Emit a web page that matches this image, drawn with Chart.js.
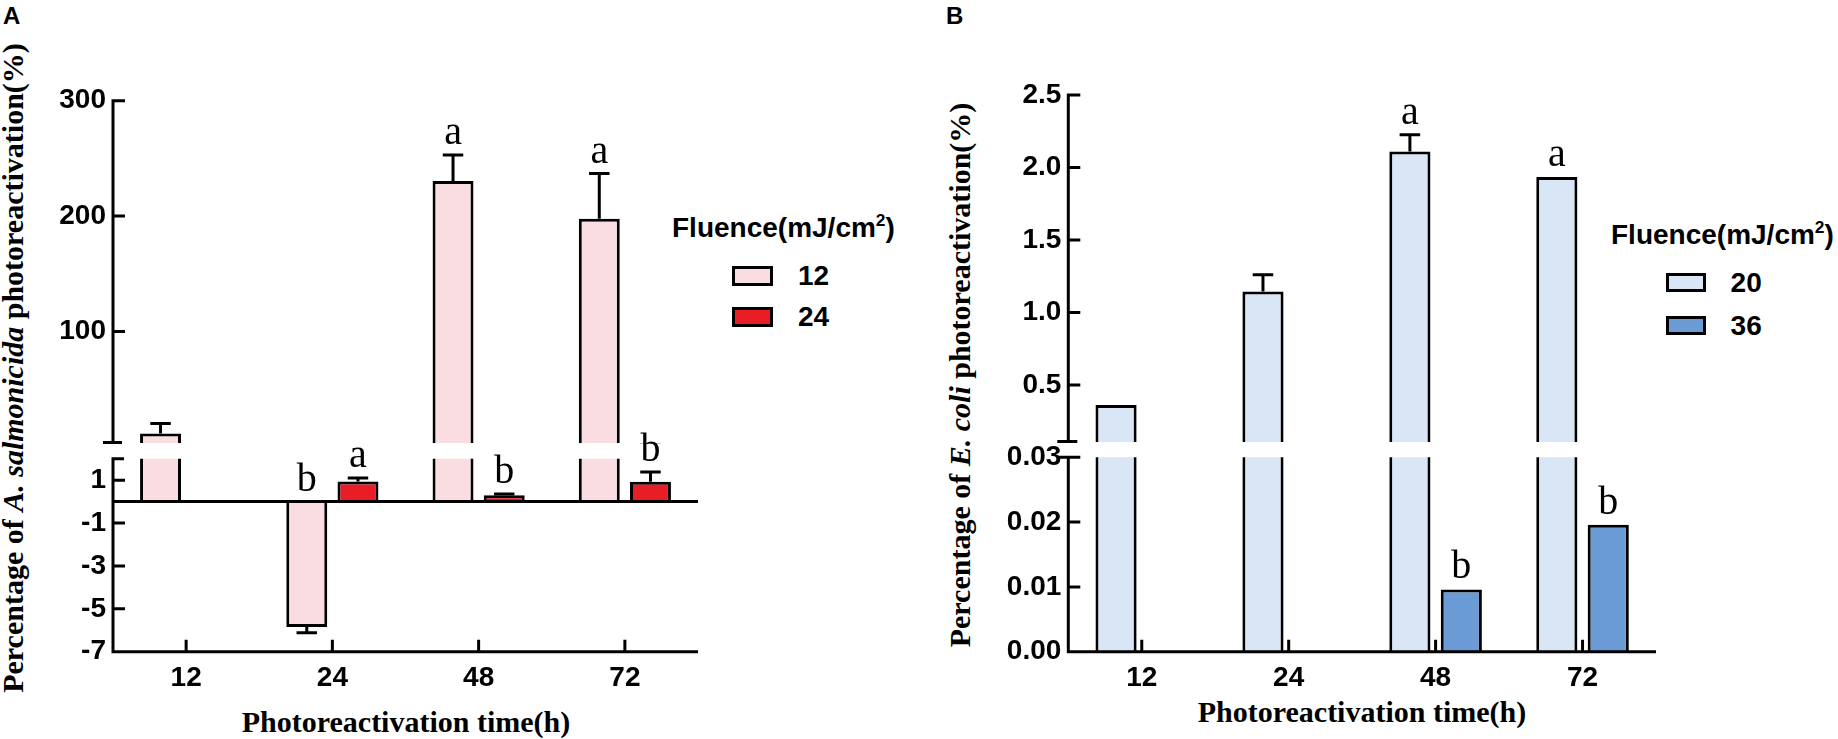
<!DOCTYPE html>
<html>
<head>
<meta charset="utf-8">
<script src="https://cdn.jsdelivr.net/npm/chart.js@4.4.1/dist/chart.umd.min.js"></script>
<style>
  body { margin: 0; background: #fff; }
  #page { position: relative; width: 1838px; height: 739px; overflow: hidden; background: #fff; }
  canvas { position: absolute; }
  .txt { position: absolute; white-space: nowrap; line-height: 1; color: #000; }
  .sans { font-family: "Liberation Sans", Arial, sans-serif; font-weight: bold; }
  .serif { font-family: "Liberation Serif", "Times New Roman", serif; font-weight: bold; }
  .mid { transform: translateY(-50%); }
  .center { transform: translate(-50%, -50%); }
  .vert { transform: translate(-50%, -50%) rotate(-90deg); }
  .box { position: absolute; box-sizing: border-box; border: 3px solid #000; }
  sup { font-size: 62%; vertical-align: 0.62em; line-height: 0; }
</style>
</head>
<body>
<div id="page">
  <div class="txt sans" style="left:3px;top:4px;font-size:24px">A</div>
  <div class="txt sans" style="left:946px;top:4px;font-size:24px">B</div>

  <div class="txt serif vert" style="left:13px;top:368px;font-size:30px">Percentage of <i>A. salmonicida</i> photoreactivation(%)</div>
  <div class="txt serif vert" style="left:960px;top:375px;font-size:30px">Percentage of <i>E. coli</i> photoreactivation(%)</div>
  <div class="txt serif center" style="left:406px;top:722px;font-size:30px">Photoreactivation time(h)</div>
  <div class="txt serif center" style="left:1362px;top:712px;font-size:30px">Photoreactivation time(h)</div>

  <div id="legendA"></div>
  <div id="legendB"></div>
</div>

<script>
const categories = ['12', '24', '48', '72'];

// A. salmonicida, fluence 12 and 24 mJ/cm2
const seriesA = ['12', '24'];
const valuesA12 = [11.7, -5.85, 230.4, 197.7];
const errorsA12 = [8.6, 0.27, 22.6, 39.2];
const lettersA12 = ['', 'b', 'a', 'a'];
const valuesA24 = [0, 0.94, 0.3, 0.93];
const errorsA24 = [0, 0.16, 0.05, 0.45];
const lettersA24 = ['', 'a', 'b', 'b'];
const ticksAUpper = [100, 200, 300];
const ticksALower = [1, -1, -3, -5, -7];

// E. coli, fluence 20 and 36 mJ/cm2
const seriesB = ['20', '36'];
const valuesB20 = [0.362, 1.145, 2.11, 1.934];
const errorsB20 = [0, 0.116, 0.116, 0];
const lettersB20 = ['', '', 'a', 'a'];
const valuesB36 = [0, 0, 0.0096, 0.0196];
const errorsB36 = [0, 0, 0, 0];
const lettersB36 = ['', '', 'b', 'b'];
const ticksBUpper = [0.5, 1.0, 1.5, 2.0, 2.5];
const ticksBLower = [0, 0.01, 0.02, 0.03];

const colorsA = ['#FADDE1', '#E91D25'];
const colorsB = ['#D9E6F6', '#6A9BD4'];

const SANS = '"Liberation Sans", Arial, sans-serif';
const SERIF = '"Liberation Serif", "Times New Roman", serif';

// error bars, significance letters, axis lines drawn GraphPad style (ticks pointing in)
const segmentDecor = {
  id: 'segmentDecor',
  afterDatasetsDraw(chart, args, opts) {
    const { ctx, chartArea: a, scales: { x, y } } = chart;
    ctx.save();
    ctx.strokeStyle = '#000';
    ctx.lineWidth = 3;

    ctx.save();
    ctx.beginPath();
    ctx.rect(a.left, a.top - 2, a.right - a.left, a.bottom - a.top + 2);
    ctx.clip();
    chart.data.datasets.forEach((ds, i) => {
      chart.getDatasetMeta(i).data.forEach((bar, j) => {
        const v = ds.data[j], e = ds.errors[j];
        if (!e) return;
        const end = v < 0 ? v - e : v + e;
        const p0 = y.getPixelForValue(v), p1 = y.getPixelForValue(end);
        const half = bar.width / 4;
        ctx.beginPath();
        ctx.moveTo(bar.x, p0); ctx.lineTo(bar.x, p1);
        ctx.moveTo(bar.x - half, p1); ctx.lineTo(bar.x + half, p1);
        ctx.stroke();
      });
    });
    ctx.restore();

    ctx.fillStyle = '#000';
    ctx.font = '40px ' + SERIF;
    ctx.textAlign = 'center';
    ctx.textBaseline = 'alphabetic';
    chart.data.datasets.forEach((ds, i) => {
      chart.getDatasetMeta(i).data.forEach((bar, j) => {
        const t = ds.letters[j];
        if (!t) return;
        const v = ds.data[j];
        const top = Math.max(v >= 0 ? v + ds.errors[j] : 0, 0);
        if (top < y.min || top > y.max) return;
        ctx.fillText(t, bar.x, y.getPixelForValue(top) - 11);
      });
    });

    const L = a.left;
    ctx.beginPath();
    ctx.moveTo(L, a.top - (opts.part === 'upper' ? 1.5 : 0));
    ctx.lineTo(L, a.bottom + (opts.part === 'lower' ? 1.5 : 0));
    y.ticks.forEach(t => {
      const py = y.getPixelForValue(t.value);
      ctx.moveTo(L, py); ctx.lineTo(L + 12, py);
    });
    if (opts.part === 'upper') {
      ctx.moveTo(L - opts.capLeft, a.bottom - 1.5); ctx.lineTo(L + 9, a.bottom - 1.5);
    } else {
      ctx.moveTo(L - opts.capLeft, a.top); ctx.lineTo(L + 11, a.top);
      ctx.moveTo(L - 1.5, a.bottom); ctx.lineTo(a.right, a.bottom);
      categories.forEach((c, j) => {
        const px = x.getPixelForValue(j);
        ctx.moveTo(px, a.bottom); ctx.lineTo(px, a.bottom - 12);
      });
      if (y.min < 0) {
        const p0 = y.getPixelForValue(0);
        ctx.moveTo(L, p0); ctx.lineTo(a.right, p0);
      }
    }
    ctx.stroke();
    ctx.restore();
  }
};

function makeSegment(cfg) {
  const canvas = document.createElement('canvas');
  canvas.width = cfg.width;
  canvas.height = cfg.height;
  canvas.style.left = cfg.left + 'px';
  canvas.style.top = cfg.top + 'px';
  document.getElementById('page').appendChild(canvas);

  return new Chart(canvas, {
    type: 'bar',
    data: {
      labels: categories,
      datasets: cfg.series.map((s, i) => ({
        label: s,
        data: cfg.values[i],
        errors: cfg.errors[i],
        letters: cfg.letters[i],
        backgroundColor: cfg.colors[i],
        borderColor: '#000',
        borderWidth: 3,
        borderSkipped: 'start',
        inflateAmount: 0,
        categoryPercentage: 0.7,
        barPercentage: 0.8,
        clip: cfg.part === 'upper' ? { left: 0, right: 0, top: 0, bottom: -1 } : 0
      }))
    },
    options: {
      responsive: false,
      animation: false,
      events: [],
      layout: { padding: { top: cfg.padTop, right: cfg.padRight, bottom: 0, left: 0 } },
      plugins: {
        legend: { display: false },
        tooltip: { enabled: false },
        segmentDecor: { part: cfg.part, capLeft: cfg.capLeft }
      },
      scales: {
        x: {
          display: cfg.part === 'lower',
          offset: true,
          afterFit: s => { s.height = cfg.xHeight || 0; s.paddingLeft = 0; s.paddingRight = 0; },
          grid: { display: false, drawTicks: false },
          border: { display: false },
          ticks: { color: '#000', padding: 10, font: { family: SANS, size: 28, weight: 'bold' } }
        },
        y: {
          min: cfg.min,
          max: cfg.max,
          afterBuildTicks: s => { s.ticks = cfg.ticks.map(v => ({ value: v })); },
          // fixed axis width and no label overhang, so both segments line up
          afterFit: s => { s.width = cfg.yWidth; s.paddingTop = 0; s.paddingBottom = 0; },
          grid: { display: false, drawTicks: false },
          border: { display: false },
          ticks: {
            autoSkip: false,
            color: '#000',
            padding: 7,
            font: { family: SANS, size: 28, weight: 'bold' },
            callback: v => Number(v).toFixed(cfg.decimals)
          }
        }
      }
    },
    plugins: [segmentDecor]
  });
}

const panelA = {
  series: seriesA, colors: colorsA,
  values: [valuesA12, valuesA24], errors: [errorsA12, errorsA24], letters: [lettersA12, lettersA24],
  left: 0, width: 720, padRight: 22, yWidth: 113, decimals: 0
};
const panelB = {
  series: seriesB, colors: colorsB,
  values: [valuesB20, valuesB36], errors: [errorsB20, errorsB36], letters: [lettersB20, lettersB36],
  left: 940, width: 740, padRight: 24, yWidth: 128.3
};

makeSegment({ ...panelA, part: 'upper', top: 50, height: 394, padTop: 50.7,
  min: 2.5, max: 300, ticks: ticksAUpper, capLeft: 10 });
makeSegment({ ...panelA, part: 'lower', top: 430, height: 309, padTop: 28.7, xHeight: 87.3,
  min: -7, max: 2, ticks: ticksALower, capLeft: 1.5 });
makeSegment({ ...panelB, part: 'upper', top: 50, height: 393, padTop: 45, decimals: 1,
  min: 0.1, max: 2.5, ticks: ticksBUpper, capLeft: 11 });
makeSegment({ ...panelB, part: 'lower', top: 430, height: 309, padTop: 27.3, xHeight: 87.3, decimals: 2,
  min: 0, max: 0.03, ticks: ticksBLower, capLeft: 11 });

// legends
function legend(id, title, series, colors, x, titleY, boxX, boxY, boxW, boxH, labelX, step) {
  const el = document.getElementById(id);
  let html = `<div class="txt sans mid" style="left:${x}px;top:${titleY}px;font-size:28px">${title}</div>`;
  series.forEach((s, i) => {
    const by = boxY + i * step;
    html += `<div class="box" style="left:${boxX}px;top:${by}px;width:${boxW}px;height:${boxH}px;background:${colors[i]}"></div>`;
    html += `<div class="txt sans mid" style="left:${labelX}px;top:${by + boxH / 2}px;font-size:28px">${s}</div>`;
  });
  el.innerHTML = html;
}
legend('legendA', 'Fluence(mJ/cm<sup>2</sup>)', seriesA, colorsA, 672, 228, 732, 266, 41, 20, 798, 40.7);
legend('legendB', 'Fluence(mJ/cm<sup>2</sup>)', seriesB, colorsB, 1611, 235, 1665.5, 273, 40, 19, 1730.6, 43);
</script>
</body>
</html>
